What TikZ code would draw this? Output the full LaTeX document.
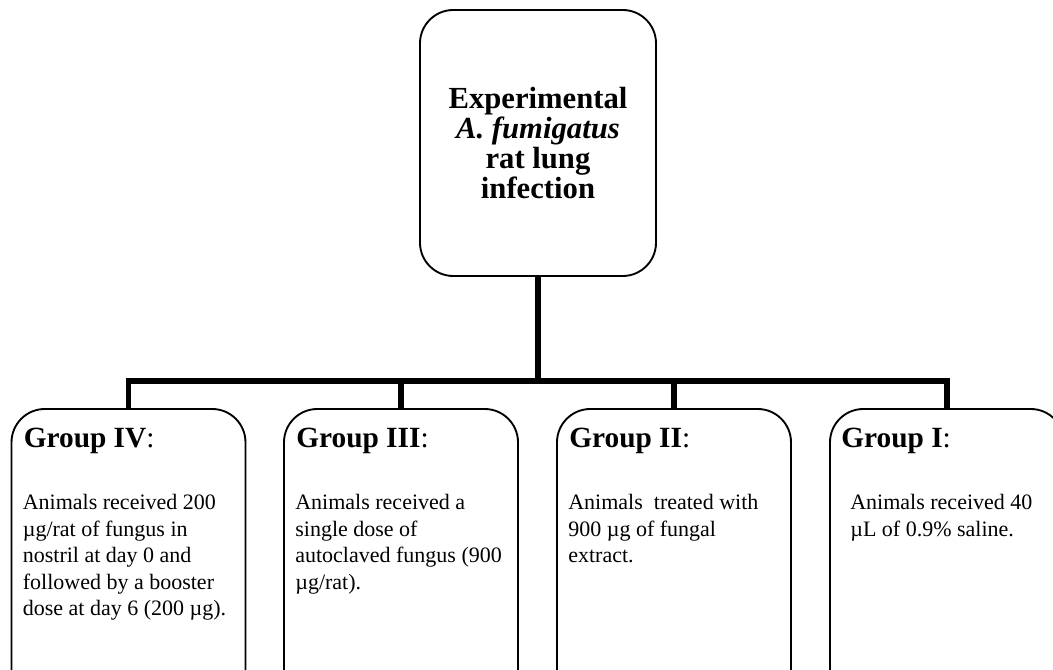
\documentclass[tikz,border=0pt]{standalone}
\usepackage{fontspec}
\setmainfont{Liberation Serif}
\usetikzlibrary{positioning}

\begin{document}
\begin{tikzpicture}[x=0.75pt,y=-0.75pt,
  box/.style={draw,line width=1.4pt,rounded corners=25pt,inner sep=0pt,minimum width=175.5pt,minimum height=225pt},
  topbox/.style={box,minimum width=177pt,minimum height=199.5pt,align=center,font=\fontsize{23}{22.5}\selectfont\bfseries},
  link/.style={line width=3.8pt,line join=miter},
  grouphead/.style={anchor=base west,inner sep=0pt,font=\fontsize{22}{24}\selectfont},
  groupbody/.style={anchor=north west,inner sep=0pt,align=left,font=\fontsize{16.5}{19.9}\selectfont}]
\useasboundingbox (0,0) rectangle (1053,670);
\clip (0,0) rectangle (1053,670);

\node[topbox] (top) at (538,143) {Experimental\\\textit{A. fumigatus}\\rat lung\\infection};

\node[box] (g4) at (128.5,559) {};
\node[box] (g3) at (401,559) {};
\node[box] (g2) at (674,559) {};
\node[box] (g1) at (947,559) {};

% group texts
\node[grouphead] (g4h) at ([shift={(13,39)}]g4.north west) {\textbf{Group IV}:};
\node[groupbody] (g4b) at ([shift={(12,86)}]g4.north west) {Animals received 200\\µg/rat of fungus in\\nostril at day 0 and\\followed by a booster\\dose at day 6 (200 µg).};
\node[grouphead] (g3h) at ([shift={(13,39)}]g3.north west) {\textbf{Group III}:};
\node[groupbody] (g3b) at ([shift={(12,86)}]g3.north west) {Animals received a\\single dose of\\autoclaved fungus (900\\µg/rat).};
\node[grouphead] (g2h) at ([shift={(13,39)}]g2.north west) {\textbf{Group II}:};
\node[groupbody] (g2b) at ([shift={(12,86)}]g2.north west) {Animals\ \ treated with\\900 µg of fungal\\extract.};
\node[grouphead] (g1h) at ([shift={(12,39)}]g1.north west) {\textbf{Group I}:};
\node[groupbody] (g1b) at ([shift={(21,86)}]g1.north west) {Animals received 40\\µL of 0.9\% saline.};

% tree
\coordinate (bar) at (538,381);
\draw[link] (top.south) -- (bar);
\draw[link] (g4.north) |- (bar) -| (g1.north);
\draw[link] (g3.north) -- (g3.north |- bar);
\draw[link] (g2.north) -- (g2.north |- bar);
\end{tikzpicture}
\end{document}
